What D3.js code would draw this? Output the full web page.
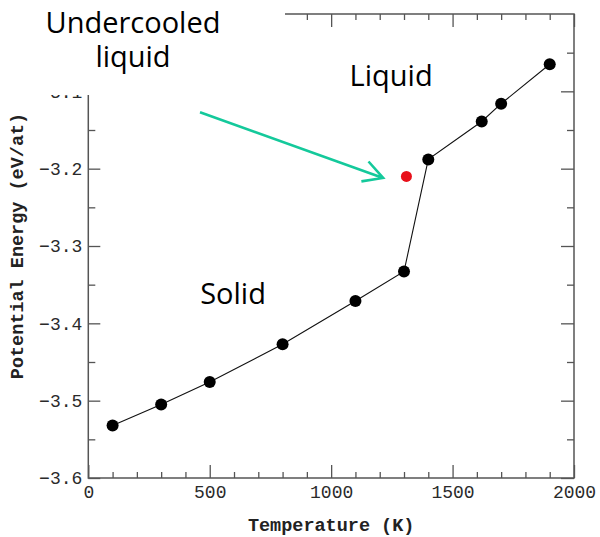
<!DOCTYPE html>
<html>
<head>
<meta charset="utf-8">
<script src="https://cdn.jsdelivr.net/npm/d3@7"></script>
<style>
    body { margin: 0; background: #fff; }
    .tick text { font-family: "Liberation Mono", "DejaVu Sans Mono", monospace; font-size: 18px; fill: #2a2a2a; }
    .tick line { stroke: #555; stroke-width: 1.3; }
    .axisTitle { font-family: "Liberation Mono", monospace; font-size: 18.5px; font-weight: bold; fill: #222; }
    .note { font-family: "Open Sans", "Noto Sans", sans-serif; fill: #000; }
</style>
</head>
<body>
<svg id="chart" width="600" height="537"></svg>
<script>

/** Temperatures (K) of the simulated states, solid then liquid branch */
var temps = [100, 300, 500, 800, 1100, 1300, 1400, 1620, 1700, 1900];

/** Potential energy (eV/at) at each temperature */
var energies = [-3.532, -3.505, -3.476, -3.427, -3.371, -3.333, -3.188, -3.139, -3.116, -3.065];

/** The single undercooled liquid state (red dot) */
var undercooledTemps = [1310],
    undercooledEnergies = [-3.210];

/** Tick values */
var xMajorTicks = [0, 500, 1000, 1500, 2000],
    yMajorTicks = [-3.6, -3.5, -3.4, -3.3, -3.2, -3.1];

/** Annotations: label, temperature, energy (placed through the scales) */
var noteLabels = ['Liquid', 'Solid'],
    noteTemps = [1247, 596],
    noteEnergies = [-3.0935, -3.375];

/** Arrow from the "Undercooled liquid" note to the red dot, in data units */
var arrowTemps = [460, 1214],
    arrowEnergies = [-3.127, -3.212];

/** Plot box (window.top is reserved, so use plot* names) */
var plotLeft = 88.3,
    plotRight = 574,
    plotTop = 14,
    plotBottom = 478;

var xScale = d3.scaleLinear()
    .domain([0, 2000])
    .range([plotLeft, plotRight]);

var yScale = d3.scaleLinear()
    .domain([-3.6, -3.0])
    .range([plotBottom, plotTop]);

var svg = d3.select('#chart');

// minor ticks every 100 K and every 0.05 eV
var xMinorTicks = d3.range(0, 2001, 100).filter(function (d) { return d % 500 != 0; });
var yMinorTicks = d3.range(-3.55, -3.0, 0.1).map(function (d) { return +d.toFixed(2); });

function drawTicks(axis, transform) {
    var g = svg.append('g')
        .attr('transform', transform)
        .call(axis);
    g.select('.domain').remove();
    return g;
}

//bottom axis with labels
drawTicks(d3.axisBottom(xScale).tickValues(xMajorTicks).tickSize(-13).tickPadding(7)
    .tickFormat(d3.format('d')), 'translate(0,' + plotBottom + ')');
drawTicks(d3.axisBottom(xScale).tickValues(xMinorTicks).tickSize(-6).tickFormat(''),
    'translate(0,' + plotBottom + ')');

//top axis, ticks only
drawTicks(d3.axisTop(xScale).tickValues(xMajorTicks).tickSize(-13).tickFormat(''),
    'translate(0,' + plotTop + ')');
drawTicks(d3.axisTop(xScale).tickValues(xMinorTicks).tickSize(-6).tickFormat(''),
    'translate(0,' + plotTop + ')');

//left axis with labels
drawTicks(d3.axisLeft(yScale).tickValues(yMajorTicks).tickSize(-12).tickPadding(6)
    .tickFormat(function (d) { return d3.format('.1f')(d).replace('-', '\u2212'); }),
    'translate(' + plotLeft + ',0)');
drawTicks(d3.axisLeft(yScale).tickValues(yMinorTicks).tickSize(-7).tickFormat(''),
    'translate(' + plotLeft + ',0)');

//right axis, ticks only
drawTicks(d3.axisRight(yScale).tickValues(yMajorTicks).tickSize(-13).tickFormat(''),
    'translate(' + plotRight + ',0)');
drawTicks(d3.axisRight(yScale).tickValues(yMinorTicks).tickSize(-7).tickFormat(''),
    'translate(' + plotRight + ',0)');

// frame
svg.append('rect')
    .attr('x', plotLeft)
    .attr('y', plotTop)
    .attr('width', plotRight - plotLeft)
    .attr('height', plotBottom - plotTop)
    .style('fill', 'none')
    .style('stroke', '#555')
    .style('stroke-width', 1.5);

// axis titles
svg.append('text')
    .attr('class', 'axisTitle')
    .attr('x', (plotLeft + plotRight) / 2)
    .attr('y', 531)
    .attr('text-anchor', 'middle')
    .text('Temperature (K)');

svg.append('text')
    .attr('class', 'axisTitle')
    .attr('transform', 'translate(23,' + ((plotBottom + 14) / 2) + ') rotate(-90)')
    .attr('text-anchor', 'middle')
    .text('Potential Energy (eV/at)');

// data line and points
var points = temps.map(function (t, i) { return [t, energies[i]]; });

var line = d3.line()
    .x(function (d) { return xScale(d[0]); })
    .y(function (d) { return yScale(d[1]); });

svg.append('path')
    .datum(points)
    .attr('d', line)
    .style('fill', 'none')
    .style('stroke', '#111')
    .style('stroke-width', 1.1);

svg.selectAll('circle.pt')
    .data(points)
    .enter()
    .append('circle')
    .attr('class', 'pt')
    .attr('cx', function (d) { return xScale(d[0]); })
    .attr('cy', function (d) { return yScale(d[1]); })
    .attr('r', 6)
    .style('fill', '#000');

svg.selectAll('circle.red')
    .data(undercooledTemps)
    .enter()
    .append('circle')
    .attr('class', 'red')
    .attr('cx', function (d) { return xScale(d); })
    .attr('cy', function (d, i) { return yScale(undercooledEnergies[i]); })
    .attr('r', 5.5)
    .style('fill', '#e8101a');

// white box that the pasted text sits on (hides part of the frame)
svg.append('rect')
    .attr('x', 0)
    .attr('y', 0)
    .attr('width', 285)
    .attr('height', 95)
    .style('fill', '#fff');

svg.append('text')
    .attr('class', 'note')
    .attr('x', 133)
    .attr('y', 33)
    .attr('text-anchor', 'middle')
    .style('font-size', '29px')
    .text('Undercooled');

svg.append('text')
    .attr('class', 'note')
    .attr('x', 133)
    .attr('y', 67)
    .attr('text-anchor', 'middle')
    .style('font-size', '29px')
    .text('liquid');

svg.selectAll('text.region')
    .data(noteLabels)
    .enter()
    .append('text')
    .attr('class', 'note region')
    .attr('x', function (d, i) { return xScale(noteTemps[i]); })
    .attr('y', function (d, i) { return yScale(noteEnergies[i]); })
    .attr('text-anchor', 'middle')
    .style('font-size', '29px')
    .text(function (d) { return d; });

// teal arrow
var x0 = xScale(arrowTemps[0]), y0 = yScale(arrowEnergies[0]),
    x1 = xScale(arrowTemps[1]), y1 = yScale(arrowEnergies[1]);
var ang = Math.atan2(y1 - y0, x1 - x0),
    headLen = 22,
    headAng = 0.5;

svg.append('path')
    .attr('d', 'M' + x0 + ',' + y0 + 'L' + x1 + ',' + y1 +
        'M' + (x1 - headLen * Math.cos(ang - headAng)) + ',' + (y1 - headLen * Math.sin(ang - headAng)) +
        'L' + x1 + ',' + y1 +
        'L' + (x1 - headLen * Math.cos(ang + headAng)) + ',' + (y1 - headLen * Math.sin(ang + headAng)))
    .style('fill', 'none')
    .style('stroke', '#14c99b')
    .style('stroke-width', 2.6)
    .style('stroke-linejoin', 'miter');

</script>
</body>
</html>
